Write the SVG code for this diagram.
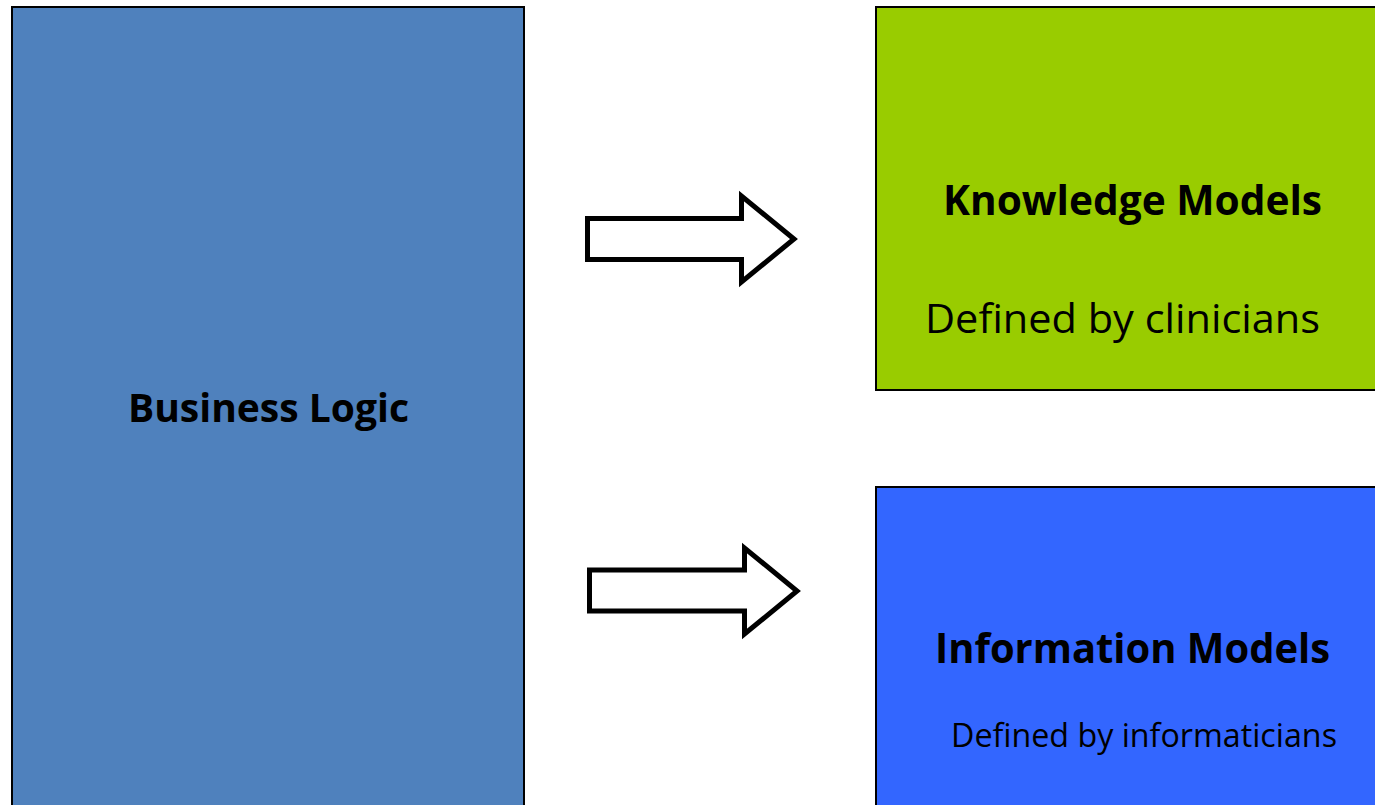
<svg xmlns="http://www.w3.org/2000/svg" width="1375" height="805" viewBox="0 0 1375 805">
<style>
.box{stroke:#000;stroke-width:2}
.t{font-family:"Open Sans","Liberation Sans",sans-serif;fill:#000}
.b{font-weight:bold}
.arrow{fill:#fff;stroke:#000;stroke-width:5;stroke-linejoin:miter}
</style>
<rect width="1375" height="805" fill="#fff"/>
<g id="business-logic">
<rect class="box" x="12" y="7" width="512" height="810" fill="#4F81BD"/>
<text class="t b" x="128" y="422" font-size="40" textLength="281" lengthAdjust="spacingAndGlyphs">Business Logic</text>
</g>
<g id="knowledge-models">
<rect class="box" x="876" y="7" width="510" height="383" fill="#99CC00"/>
<text class="t b" x="943" y="215" font-size="41" textLength="379" lengthAdjust="spacingAndGlyphs">Knowledge Models</text>
<text class="t" x="925" y="333" font-size="41" textLength="395" lengthAdjust="spacingAndGlyphs">Defined by clinicians</text>
</g>
<g id="information-models">
<rect class="box" x="876" y="487" width="510" height="330" fill="#3366FF"/>
<text class="t b" x="935" y="663" font-size="41" textLength="395" lengthAdjust="spacingAndGlyphs">Information Models</text>
<text class="t" x="951" y="747" font-size="33" textLength="386" lengthAdjust="spacingAndGlyphs">Defined by informaticians</text>
</g>
<g id="connectors">
<path class="arrow" d="M587.5,218.5 H741.5 V196 L794,239 L741.5,282 V259.5 H587.5 Z"/>
<path class="arrow" d="M589.5,570 H744.5 V548 L797,591 L744.5,634 V611 H589.5 Z"/>
</g>
</svg>
